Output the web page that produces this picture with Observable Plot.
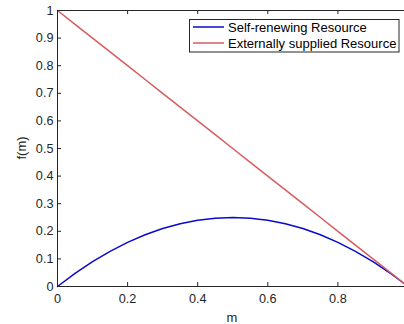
<!DOCTYPE html>
<html><head><meta charset="utf-8">
<script src="https://cdn.jsdelivr.net/npm/d3@7"></script>
<script src="https://cdn.jsdelivr.net/npm/@observablehq/plot@0.6"></script>
<style>
html,body{margin:0;padding:0;background:#fff;}
#chart{position:relative;width:404px;height:324px;overflow:hidden;}
</style>
</head><body><div id="chart"></div>
<script>
const mValues = [0,0.05,0.1,0.15,0.2,0.25,0.3,0.35,0.4,0.45,0.5,0.55,0.6,0.65,0.7,0.75,0.8,0.85,0.9,0.95,0.99];
const selfRenewing = [0,0.0475,0.09,0.1275,0.16,0.1875,0.21,0.2275,0.24,0.2475,0.25,0.2475,0.24,0.2275,0.21,0.1875,0.16,0.1275,0.09,0.0475,0.0099];
const externallySupplied = [1,0.95,0.9,0.85,0.8,0.75,0.7,0.65,0.6,0.55,0.5,0.45,0.4,0.35,0.3,0.25,0.2,0.15,0.1,0.05,0.01];
const seriesNames = ["Self-renewing Resource","Externally supplied Resource"];
const seriesColors = ["#0a0acc","#d65c5f"];
const xTicks = [0,0.2,0.4,0.6,0.8];
const yTicks = [0,0.1,0.2,0.3,0.4,0.5,0.6,0.7,0.8,0.9,1];

const rows = [];
mValues.forEach((m,i)=>{
  rows.push({m, f: selfRenewing[i], s: seriesNames[0]});
});
mValues.forEach((m,i)=>{
  rows.push({m, f: externallySupplied[i], s: seriesNames[1]});
});

const W = 404, H = 324, mL = 57, mR = 0, mT = 10, mB = 38;
const plotH = H - mT - mB, plotW = W - mL - mR;
const axisColor = "#262626";
const tickLen = 4;
const font = "'Liberation Sans', Arial, sans-serif";
const tickFont = 12.7;

const chart = Plot.plot({
  width: W, height: H,
  marginLeft: mL, marginRight: mR, marginTop: mT, marginBottom: mB,
  style: {fontFamily: font, fontSize: tickFont + "px", color: axisColor, background: "#fff"},
  x: {domain: [0, 0.99], label: null},
  y: {domain: [0, 1], label: null},
  color: {domain: seriesNames, range: seriesColors},
  marks: [
    Plot.line(rows, {x: "m", y: "f", z: "s", stroke: "s", strokeWidth: 1.5}),
    Plot.ruleY([0], {stroke: axisColor, strokeWidth: 1}),
    Plot.ruleY([1], {stroke: axisColor, strokeWidth: 1}),
    Plot.ruleX([0], {stroke: axisColor, strokeWidth: 1}),
    Plot.tickX(xTicks, {x: d => d, insetTop: plotH - tickLen, stroke: axisColor}),
    Plot.tickX(xTicks, {x: d => d, insetBottom: plotH - tickLen, stroke: axisColor}),
    Plot.tickY(yTicks, {y: d => d, insetRight: plotW - tickLen, stroke: axisColor}),
    Plot.axisX(xTicks, {tickSize: 0, tickPadding: 7, fill: axisColor, fontSize: tickFont, tickFormat: d => String(d)}),
    Plot.axisY(yTicks, {tickSize: 0, tickPadding: 4, fill: axisColor, fontSize: tickFont, tickFormat: d => String(d)})
  ]
});
document.getElementById("chart").appendChild(chart);

const svg = d3.select(chart);
// axis titles
svg.append("text").attr("x", 232).attr("y", 321.5)
  .attr("text-anchor", "middle").attr("fill", axisColor)
  .style("font-family", font).style("font-size", "13px").text("m");
svg.append("text").attr("transform", `translate(22,${mT + plotH / 2}) rotate(-90)`)
  .attr("text-anchor", "middle").attr("dy", "0.32em").attr("fill", axisColor)
  .style("font-family", font).style("font-size", "13px").text("f(m)");

// legend
const lg = svg.append("g");
lg.append("rect").attr("x", 189.5).attr("y", 19.5).attr("width", 209.5).attr("height", 32.5)
  .attr("fill", "#fff").attr("stroke", axisColor).attr("stroke-width", 1);
seriesNames.forEach((name, i) => {
  const y = 27 + i * 16;
  lg.append("line").attr("x1", 193).attr("x2", 224).attr("y1", y).attr("y2", y)
    .attr("stroke", seriesColors[i]).attr("stroke-width", 1.5);
  lg.append("text").attr("x", 228).attr("y", y).attr("dy", "0.35em").attr("fill", "#000")
    .attr("text-anchor", "start")
    .style("font-family", font).style("font-size", "13px").text(name);
});
</script>
</body></html>
